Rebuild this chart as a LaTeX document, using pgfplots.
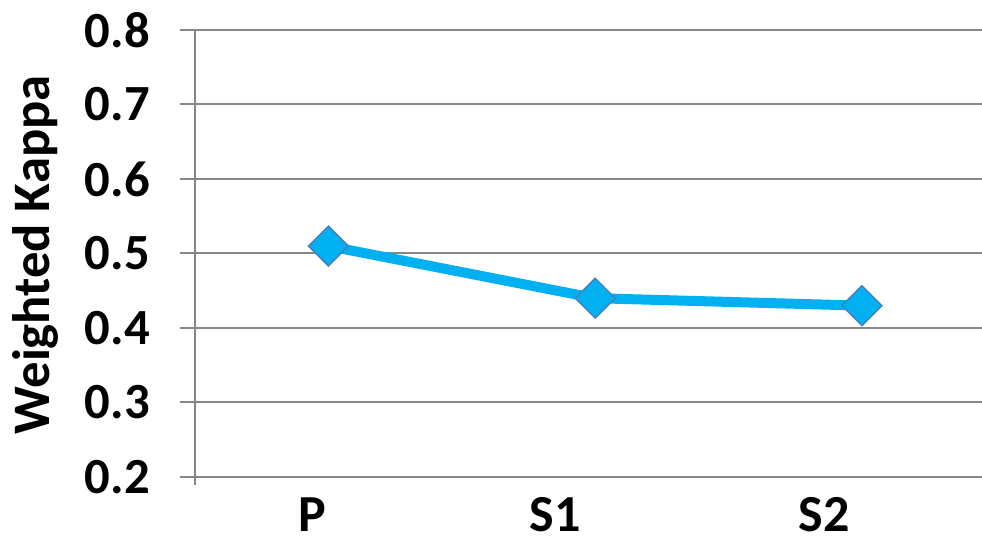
\documentclass[border=0pt]{standalone}
\usepackage{pgfplots}
\pgfplotsset{compat=1.18}
\usepackage{fontspec}
\setmainfont{Carlito}
\definecolor{gridgray}{HTML}{868686}
\definecolor{lineblue}{HTML}{00B0F0}
\definecolor{edgeblue}{HTML}{4A7EBB}
\begin{document}
\begin{tikzpicture}
\begin{axis}[
  name=ax,
  at={(0,0)}, anchor=south west,
  scale only axis,
  width=590.25pt, height=335.25pt,
  xmin=-0.5, xmax=2.45,
  ymin=0.2, ymax=0.8,
  xtick={0,1,2},
  xticklabels={{P\hspace*{24pt}},{S1\hspace*{60pt}},{S2\hspace*{57pt}}},
  ytick={0.2,0.3,0.4,0.5,0.6,0.7,0.8},
  /pgf/number format/fixed,
  /pgf/number format/fixed zerofill,
  /pgf/number format/precision=1,
  /pgf/number format/assume math mode=true,
  font=\fontsize{38}{45}\selectfont\bfseries,
  axis x line*=bottom,
  axis y line*=left,
  axis line style={draw=gridgray, line width=1.5pt, -},
  y axis line style={shorten <=-6pt},
  ymajorgrids,
  grid style={draw=gridgray, line width=1.5pt},
  tick align=outside,
  ytick style={draw=gridgray, line width=1.5pt},
  major tick length=11.25pt,
  xtick style={draw=none},
  yticklabel style={anchor=east, inner sep=0pt, xshift=-22.5pt},
  xticklabel style={anchor=north, inner sep=0pt, yshift=-4pt, font=\fontsize{39}{46}\selectfont\bfseries},
  clip=false,
]
\addplot[color=lineblue, line width=7.5pt, mark=square*,
  mark size=10.6pt,
  mark options={rotate=45, fill=lineblue, draw=edgeblue, line width=1pt}]
  coordinates {(0,0.51) (1,0.44) (2,0.43)};
\node[rotate=90, anchor=center, font=\fontsize{39.5}{46}\selectfont\bfseries]
  at ([xshift=-119.5pt, yshift=-1pt]rel axis cs:0,0.5) {Weighted Kappa};
\end{axis}
\pgfresetboundingbox
\useasboundingbox ([xshift=-146.25pt, yshift=-48pt]ax.south west) rectangle ([yshift=22.5pt]ax.north east);
\end{tikzpicture}
\end{document}
